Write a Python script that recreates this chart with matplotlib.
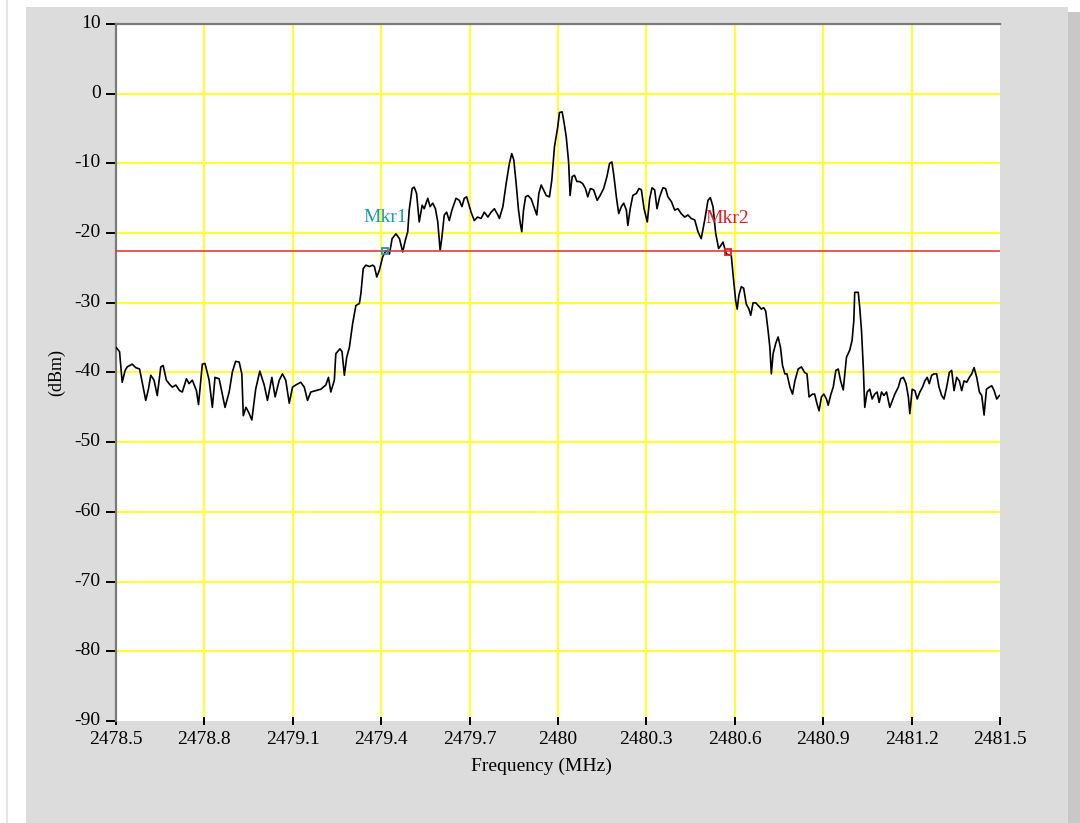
import matplotlib
matplotlib.use("Agg")
import matplotlib.pyplot as plt
import matplotlib.transforms as mtransforms
from matplotlib.patches import Rectangle
from matplotlib.lines import Line2D

# ---------------- data ----------------
freq_mhz = [
    2478.500, 2478.512, 2478.521, 2478.531, 2478.538, 2478.555, 2478.567, 2478.580,
    2478.601, 2478.610, 2478.618, 2478.629, 2478.640, 2478.652, 2478.660, 2478.671,
    2478.680, 2478.691, 2478.703, 2478.716, 2478.725, 2478.739, 2478.748, 2478.759,
    2478.773, 2478.780, 2478.793, 2478.802, 2478.816, 2478.827, 2478.836, 2478.850,
    2478.870, 2478.884, 2478.895, 2478.906, 2478.918, 2478.927, 2478.932, 2478.941,
    2478.950, 2478.961, 2478.974, 2478.988, 2479.003, 2479.014, 2479.029, 2479.040,
    2479.054, 2479.065, 2479.076, 2479.088, 2479.099, 2479.110, 2479.127, 2479.139,
    2479.150, 2479.161, 2479.178, 2479.195, 2479.212, 2479.221, 2479.229,
    2479.241, 2479.246, 2479.260, 2479.267, 2479.275, 2479.283, 2479.292, 2479.303,
    2479.314, 2479.326, 2479.331, 2479.339, 2479.348, 2479.360, 2479.371, 2479.377,
    2479.385, 2479.394, 2479.405, 2479.416, 2479.428, 2479.437, 2479.450, 2479.462,
    2479.473, 2479.482, 2479.490, 2479.495, 2479.505, 2479.512, 2479.520, 2479.529,
    2479.539, 2479.546, 2479.558, 2479.566, 2479.575, 2479.584, 2479.592, 2479.600,
    2479.606, 2479.614, 2479.622, 2479.631, 2479.640, 2479.654, 2479.665, 2479.674,
    2479.682, 2479.690, 2479.705, 2479.716, 2479.727, 2479.739, 2479.750, 2479.762,
    2479.773, 2479.784, 2479.796,
    2479.801, 2479.813, 2479.824, 2479.835, 2479.843, 2479.850, 2479.858, 2479.866,
    2479.872, 2479.877, 2479.883, 2479.890, 2479.898, 2479.909, 2479.918, 2479.928,
    2479.935, 2479.943, 2479.951, 2479.960, 2479.971, 2479.979, 2479.988, 2479.999,
    2480.005, 2480.014, 2480.020, 2480.028, 2480.036, 2480.041, 2480.048, 2480.056,
    2480.064, 2480.073, 2480.084, 2480.093, 2480.101, 2480.110, 2480.121, 2480.133,
    2480.143, 2480.155, 2480.166, 2480.175, 2480.183, 2480.190, 2480.198, 2480.206,
    2480.215, 2480.223, 2480.232, 2480.237, 2480.245, 2480.254, 2480.266, 2480.275,
    2480.283, 2480.292, 2480.303, 2480.311, 2480.319, 2480.328, 2480.336, 2480.345,
    2480.356, 2480.365, 2480.373, 2480.385, 2480.396, 2480.407, 2480.418, 2480.430,
    2480.441, 2480.452, 2480.464, 2480.475, 2480.486, 2480.498, 2480.509, 2480.517,
    2480.526, 2480.535, 2480.545,
    2480.549, 2480.560, 2480.571, 2480.588, 2480.596, 2480.603, 2480.608, 2480.614,
    2480.622, 2480.630, 2480.639, 2480.648, 2480.654, 2480.662, 2480.671, 2480.682,
    2480.690, 2480.698, 2480.705, 2480.713, 2480.719, 2480.724, 2480.730, 2480.739,
    2480.747, 2480.755, 2480.762, 2480.770, 2480.777, 2480.787, 2480.796, 2480.804,
    2480.815, 2480.826, 2480.837, 2480.845, 2480.852, 2480.864, 2480.871, 2480.879,
    2480.886, 2480.894, 2480.902, 2480.911, 2480.917, 2480.925, 2480.934, 2480.943,
    2480.951, 2480.959,
    2480.968, 2480.979, 2480.990, 2480.998, 2481.004, 2481.007, 2481.019, 2481.024,
    2481.030, 2481.036, 2481.041, 2481.049, 2481.058, 2481.066, 2481.075, 2481.083,
    2481.090, 2481.098, 2481.106, 2481.115, 2481.126, 2481.135, 2481.143, 2481.155,
    2481.163, 2481.172, 2481.181, 2481.189, 2481.194, 2481.202, 2481.211, 2481.219,
    2481.228, 2481.237, 2481.245, 2481.253, 2481.260, 2481.268, 2481.276, 2481.285,
    2481.293, 2481.302, 2481.310, 2481.319, 2481.328, 2481.336, 2481.344, 2481.353,
    2481.362, 2481.370, 2481.378, 2481.387, 2481.396, 2481.404, 2481.412, 2481.421,
    2481.430, 2481.438, 2481.446, 2481.454, 2481.464, 2481.472, 2481.480, 2481.489,
    2481.498,
]

power_dbm = [
    -36.4, -37.0, -41.4, -39.7, -39.2, -38.8, -39.3, -39.5,
    -44.0, -42.4, -40.4, -41.1, -43.3, -39.2, -39.0, -41.1,
    -41.6, -42.1, -41.8, -42.6, -42.8, -40.9, -41.6, -41.1,
    -42.6, -44.6, -38.8, -38.7, -41.1, -45.0, -40.7, -40.9,
    -45.0, -42.8, -39.9, -38.4, -38.5, -40.2, -46.2, -45.0,
    -45.7, -46.8, -42.4, -39.8, -41.8, -44.0, -40.7, -43.5,
    -41.1, -40.2, -41.1, -44.4, -42.1, -41.8, -41.4, -42.1,
    -44.0, -42.8, -42.6, -42.4, -41.8, -40.7, -42.8,
    -41.1, -37.3, -36.6, -37.0, -40.4, -37.8, -36.4, -33.0,
    -30.4, -30.1, -28.7, -25.1, -24.6, -24.8, -24.6, -24.8,
    -26.3, -25.3, -23.4, -22.5, -23.0, -20.8, -20.1, -20.8,
    -22.7, -21.0, -19.8, -16.7, -13.6, -13.4, -14.3, -18.4,
    -16.0, -16.5, -15.0, -16.2, -15.7, -16.5, -18.4, -22.5,
    -20.6, -17.4, -17.0, -18.2, -16.7, -15.0, -15.3, -16.2,
    -15.0, -14.8, -17.0, -18.2, -17.7, -17.9, -17.0, -17.7,
    -17.0, -16.5, -17.4,
    -17.9, -16.2, -12.9, -10.0, -8.6, -9.5, -12.9, -16.7,
    -18.6, -19.8, -16.7, -14.8, -14.6, -15.1, -16.2, -17.4,
    -14.3, -13.1, -13.8, -14.6, -14.8, -12.4, -7.6, -4.8,
    -2.7, -2.6, -4.0, -6.2, -9.8, -14.6, -11.9, -11.7,
    -12.6, -12.6, -12.9, -13.6, -14.8, -13.6, -13.8, -15.3,
    -14.6, -13.6, -11.9, -10.0, -9.8, -11.9, -14.8, -17.2,
    -16.2, -15.7, -16.7, -18.9, -16.5, -14.6, -14.3, -13.6,
    -13.8, -16.5, -18.4, -15.1, -13.5, -13.8, -16.5, -14.8,
    -13.5, -13.6, -14.8, -15.5, -16.7, -16.5, -17.2, -17.7,
    -17.4, -17.9, -18.1, -19.8, -20.8, -18.1, -15.3, -14.9,
    -16.2, -20.0, -22.2,
    -22.0, -21.3, -23.0, -23.2, -26.8, -29.7, -30.9, -28.9,
    -27.7, -27.9, -30.2, -30.9, -31.8, -30.0, -30.0, -30.5,
    -30.9, -30.7, -31.2, -34.0, -36.4, -40.2, -37.3, -35.8,
    -34.9, -36.4, -39.0, -40.2, -40.2, -42.1, -43.1, -41.2,
    -39.5, -39.2, -40.0, -40.2, -43.5, -43.1, -43.1, -44.5,
    -45.5, -43.5, -43.1, -43.8, -44.7, -43.3, -42.1, -39.7,
    -39.5, -41.2,
    -42.5, -37.8, -36.8, -35.4, -32.5, -28.5, -28.5, -30.7,
    -34.0, -39.2, -45.0, -42.8, -42.4, -43.8, -43.1, -42.8,
    -44.3, -42.8, -43.3, -42.8, -45.0, -44.0, -43.1, -42.1,
    -40.9, -40.7, -41.6, -43.5, -45.9, -42.4, -42.6, -43.8,
    -42.8, -42.1, -41.2, -40.7, -41.6, -40.4, -40.2, -40.2,
    -42.1, -43.3, -43.8, -42.1, -40.0, -39.7, -42.6, -40.7,
    -41.2, -42.6, -41.2, -41.4, -40.7, -40.2, -39.3, -40.7,
    -42.8, -43.3, -46.1, -42.4, -42.1, -41.9, -42.6, -43.8,
    -43.3,
]

threshold_dbm = -22.5
marker_names = ["Mkr1", "Mkr2"]
marker_freq = [2479.414, 2480.576]
marker_dbm = [-22.5, -22.7]
marker_colors = ["#1b9ab4", "#e02020"]

x_ticks = [2478.5, 2478.8, 2479.1, 2479.4, 2479.7, 2480.0, 2480.3, 2480.6, 2480.9, 2481.2, 2481.5]
x_tick_labels = ["2478.5", "2478.8", "2479.1", "2479.4", "2479.7", "2480", "2480.3",
                 "2480.6", "2480.9", "2481.2", "2481.5"]
y_ticks = [10, 0, -10, -20, -30, -40, -50, -60, -70, -80, -90]
y_tick_labels = ["10", "0", "-10", "-20", "-30", "-40", "-50", "-60", "-70", "-80", "-90"]

# ---------------- figure ----------------
W, H = 1080, 823
FONT = "Liberation Serif"
fig = plt.figure(figsize=(W / 100, H / 100), dpi=100)
fig.patch.set_facecolor("white")

# gray panel and right-hand strip (behind the axes)
fig.patches.append(Rectangle((26 / W, 0), (1068 - 26) / W, 1 - 7 / H,
                             transform=fig.transFigure, facecolor="#dcdcdc",
                             edgecolor="none", zorder=-5))
fig.patches.append(Rectangle((1068 / W, 0), 12 / W, 1 - 12 / H,
                             transform=fig.transFigure, facecolor="#c8c8c8",
                             edgecolor="none", zorder=-5))
fig.lines.append(Line2D([7 / W, 7 / W], [0, 1], transform=fig.transFigure,
                        color="#e6e6e6", lw=1.5, zorder=-5))

ax = fig.add_axes([116 / W, 1 - 721 / H, (1000 - 116) / W, (721 - 24) / H])
ax.set_zorder(1)
ax.set_facecolor("white")
ax.set_xlim(2478.5, 2481.5)
ax.set_ylim(-90, 10)

# grid
for xv in x_ticks[1:-1]:
    ax.axvline(xv, color="#ffff33", lw=1.5, zorder=1)
for yv in y_ticks[1:-1]:
    ax.axhline(yv, color="#ffff33", lw=1.5, zorder=1)

# trace
ax.plot(freq_mhz, power_dbm, color="black", lw=1.2, zorder=3)

# threshold line
ax.axhline(threshold_dbm, color="#e03c3c", lw=1.2, zorder=4)

# markers
for name, fx, fy, c in zip(marker_names, marker_freq, marker_dbm, marker_colors):
    ax.plot([fx], [fy], marker="s", ms=4.5, mfc="none", mec=c, mew=1.3, zorder=5)
    ax.annotate(name, (fx, fy), xytext=(0, 24), textcoords="offset points",
                ha="center", va="center", color=c, fontsize=14,
                family=FONT, zorder=6)

# spines
for s in ("right", "bottom"):
    ax.spines[s].set_visible(False)
for s in ("top", "left"):
    ax.spines[s].set_color("#7a7a7a")
    ax.spines[s].set_linewidth(1.6)

ax.set_xticks(x_ticks)
ax.set_xticklabels(x_tick_labels)
ax.set_yticks(y_ticks)
ax.set_yticklabels(y_tick_labels)
ax.tick_params(axis="y", direction="out", length=7, width=1.4, color="black",
               pad=4, labelsize=14)
ax.tick_params(axis="x", direction="inout", length=6, width=1.4, color="black",
               pad=4, labelsize=14)
up = mtransforms.ScaledTranslation(0, 2.5 / 100, fig.dpi_scale_trans)
for lab in ax.get_yticklabels():
    lab.set_family(FONT)
    lab.set_transform(lab.get_transform() + up)
for lab in ax.get_xticklabels():
    lab.set_family(FONT)

ax.set_xlabel("Frequency (MHz)", family=FONT, fontsize=14, va="center")
ax.xaxis.set_label_coords((541 - 116) / 884, -(766 - 721) / 697)
ax.set_ylabel("(dBm)", family=FONT, fontsize=13, va="center")
ax.yaxis.set_label_coords((57 - 116) / 884, 0.5)

fig.savefig("out.png", dpi=100, facecolor=fig.get_facecolor())
